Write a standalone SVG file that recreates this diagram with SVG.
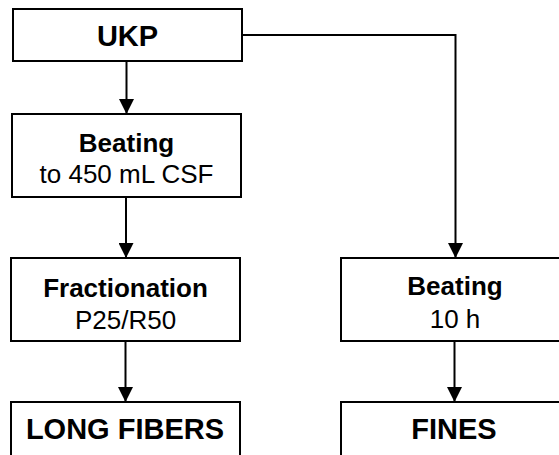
<svg xmlns="http://www.w3.org/2000/svg" width="559" height="455" viewBox="0 0 559 455">
<defs>
<marker id="ah" markerUnits="userSpaceOnUse" markerWidth="16" markerHeight="15" refX="15" refY="7.5" orient="auto">
<path d="M0,0 L15,7.5 L0,15 Z" fill="#000"/>
</marker>
<style>
.box{fill:#fff;stroke:#000;stroke-width:2}
.ln{fill:none;stroke:#000;stroke-width:2}
.t{font-family:"Liberation Sans",Arial,sans-serif;text-anchor:middle;fill:#000}
.b29{font-size:29px;font-weight:bold}
.b26{font-size:26px;font-weight:bold}
.r26{font-size:26px}
</style>
</defs>
<rect width="559" height="455" fill="#fff"/>
<g id="connectors">
<path class="ln" d="M126.5,62 V114" marker-end="url(#ah)"/>
<path class="ln" d="M126,197 V258" marker-end="url(#ah)"/>
<path class="ln" d="M125.5,341 V402" marker-end="url(#ah)"/>
<path class="ln" d="M242,35 H455.5 V258" marker-end="url(#ah)"/>
<path class="ln" d="M454.5,341 V402" marker-end="url(#ah)"/>
</g>
<g id="ukp">
<rect class="box" x="13" y="9" width="229" height="52"/>
<text class="t b29" x="127.5" y="46">UKP</text>
</g>
<g id="beating1">
<rect class="box" x="12" y="114" width="229" height="83"/>
<text class="t b26" x="126.5" y="152">Beating</text>
<text class="t r26" x="126.5" y="183">to 450 mL CSF</text>
</g>
<g id="fractionation">
<rect class="box" x="11" y="258" width="229" height="83"/>
<text class="t b26" x="125.5" y="297">Fractionation</text>
<text class="t r26" x="125.5" y="329">P25/R50</text>
</g>
<g id="longfibers">
<rect class="box" x="11" y="402" width="229" height="70"/>
<text class="t b29" x="125" y="439">LONG FIBERS</text>
</g>
<g id="beating2">
<rect class="box" x="341" y="258" width="229" height="83"/>
<text class="t b26" x="455" y="295">Beating</text>
<text class="t r26" x="455" y="328">10 h</text>
</g>
<g id="fines">
<rect class="box" x="341" y="402" width="229" height="70"/>
<text class="t b29" x="454" y="439">FINES</text>
</g>
</svg>
